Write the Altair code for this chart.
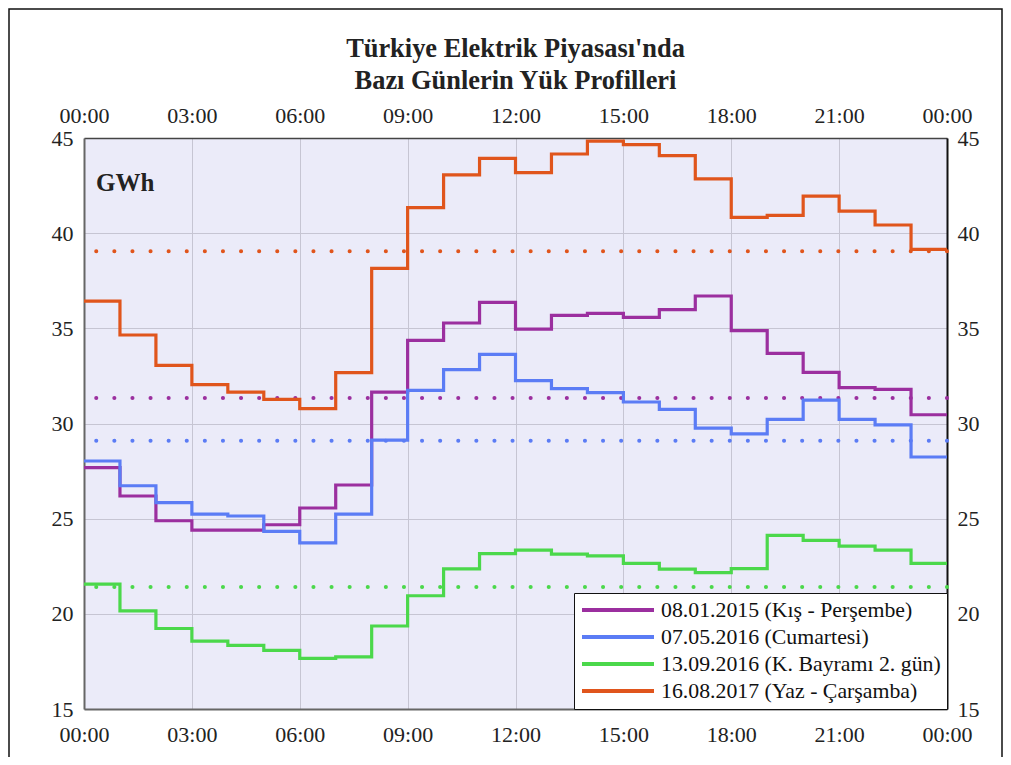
import altair as alt
import pandas as pd
import numpy as np

# ---- data ----
hours = list(range(24))
series_names = [
    "08.01.2015 (Kış - Perşembe)",
    "07.05.2016 (Cumartesi)",
    "13.09.2016 (K. Bayramı 2. gün)",
    "16.08.2017 (Yaz - Çarşamba)",
]
colors = ["#9b2f9f", "#5b7cf5", "#4bd84b", "#e0551c"]

kis_persembe = [27.68, 26.19, 24.89, 24.40, 24.40, 24.68, 25.56, 26.77, 31.65, 34.37, 35.28, 36.36,
                34.96, 35.68, 35.79, 35.58, 35.98, 36.70, 34.88, 33.68, 32.69, 31.88, 31.79, 30.46]
cumartesi = [28.03, 26.73, 25.84, 25.24, 25.14, 24.33, 23.73, 25.24, 29.13, 31.74, 32.83, 33.63,
             32.25, 31.83, 31.62, 31.13, 30.74, 29.76, 29.45, 30.22, 31.23, 30.22, 29.93, 28.24]
bayram = [21.56, 20.16, 19.23, 18.57, 18.34, 18.08, 17.66, 17.74, 19.36, 20.95, 22.36, 23.16,
          23.35, 23.14, 23.05, 22.65, 22.35, 22.16, 22.37, 24.12, 23.86, 23.56, 23.35, 22.65]
yaz_carsamba = [36.43, 34.65, 33.05, 32.04, 31.65, 31.27, 30.78, 32.67, 38.15, 41.34, 43.06, 43.93,
                43.18, 44.16, 44.84, 44.65, 44.07, 42.85, 40.83, 40.94, 41.95, 41.16, 40.43, 39.15]

x_ticks = [0, 3, 6, 9, 12, 15, 18, 21, 24]
y_ticks = [15, 20, 25, 30, 35, 40, 45]

all_series = [kis_persembe, cumartesi, bayram, yaz_carsamba]

rows = []
for name, vals in zip(series_names, all_series):
    for h, v in zip(hours + [24], vals + [vals[-1]]):
        rows.append({"saat": h, "seri": name, "deger": v})
df = pd.DataFrame(rows)
avg_df = pd.DataFrame({"seri": series_names, "ort": [float(np.mean(v)) for v in all_series]})

FONT = "Liberation Serif"
TXT = "#222222"
label_expr = "(datum.value % 24 < 10 ? '0' : '') + (datum.value % 24) + ':00'"

x_scale = alt.Scale(domain=[0, 24], nice=False, zero=False)
y_scale = alt.Scale(domain=[15, 45], nice=False, zero=False)
color_scale = alt.Scale(domain=series_names, range=colors)

common_axis = dict(labelFont=FONT, labelFontSize=22, labelColor=TXT, ticks=False,
                   labelOverlap=False, labelFlush=False, title=None)

x_bottom = alt.X("saat:Q", scale=x_scale, title=None,
                 axis=alt.Axis(orient="bottom", values=x_ticks, labelExpr=label_expr, grid=True,
                               gridColor="#c6c5d3", gridWidth=1, domainColor="#666666",
                               domainWidth=2, labelPadding=15, **common_axis))
y_left = alt.Y("deger:Q", scale=y_scale, title=None,
               axis=alt.Axis(orient="left", values=y_ticks, grid=True, gridColor="#c6c5d3",
                             gridWidth=1, domainColor="#666666", domainWidth=2,
                             labelPadding=11, **common_axis))
x_top = alt.X("saat:Q", scale=x_scale, title=None,
              axis=alt.Axis(orient="top", values=x_ticks, labelExpr=label_expr, grid=False,
                            domainColor="#444444", domainWidth=1.5, labelPadding=11,
                            **common_axis))
y_right = alt.Y("deger:Q", scale=y_scale, title=None,
                axis=alt.Axis(orient="right", values=y_ticks, grid=False, domainColor="#111111",
                              domainWidth=2, labelPadding=10, **common_axis))

# dotted daily-average lines, one constant-coloured layer per series
avg_layers = []
for name, col in zip(series_names, colors):
    avg_layers.append(
        alt.Chart(avg_df).transform_filter(alt.datum.seri == name)
        .mark_rule(color=col, strokeWidth=4, strokeDash=[0.1, 18], strokeCap="round")
        .encode(y=alt.Y("ort:Q", scale=y_scale, axis=None))
    )

lines = alt.Chart(df).mark_line(interpolate="step-after", strokeWidth=3.2).encode(
    x=x_bottom,
    y=y_left,
    color=alt.Color("seri:N", scale=color_scale, sort=series_names,
                    legend=alt.Legend(title=None, orient="bottom-right", offset=0,
                                      symbolType="stroke", symbolSize=5184, symbolStrokeWidth=4,
                                      clipHeight=22, rowPadding=4,
                                      labelFont=FONT, labelFontSize=21.8, labelColor="#111111",
                                      labelOffset=5, fillColor="white", strokeColor="#111111",
                                      padding=6, labelLimit=400)),
    order=alt.Order("saat:Q"),
)

ghost = alt.Chart(df).mark_point(opacity=0).encode(x=x_top, y=y_right)

gwh = alt.Chart(pd.DataFrame({"t": ["GWh"]})).mark_text(
    font=FONT, fontSize=25, fontWeight="bold", color=TXT, align="left", baseline="middle"
).encode(text="t:N", x=alt.value(12), y=alt.value(45))

frame = alt.Chart(pd.DataFrame({"a": [0]})).mark_rect(
    fillOpacity=0, stroke="#111111", strokeWidth=1.5
).encode(x=alt.value(-75), x2=alt.value(918), y=alt.value(-129), y2=alt.value(640))

chart = alt.layer(*avg_layers, lines, ghost, gwh, frame).resolve_axis(
    x="independent", y="independent"
).properties(
    width=863,
    height=571,
    autosize=alt.AutoSizeParams(type="none"),
    padding={"left": 76, "top": 130, "right": 56, "bottom": 48},
    title=alt.TitleParams(["Türkiye Elektrik Piyasası'nda", "Bazı Günlerin Yük Profilleri"],
                          font=FONT, fontSize=26.4, fontWeight="bold", color=TXT, lineHeight=32,
                          anchor="middle", frame="group", offset=12, dy=98),
).configure_view(
    fill="#ebebf9", stroke=None
)

chart.save("out.html", embed_options={"renderer": "svg", "actions": False})
